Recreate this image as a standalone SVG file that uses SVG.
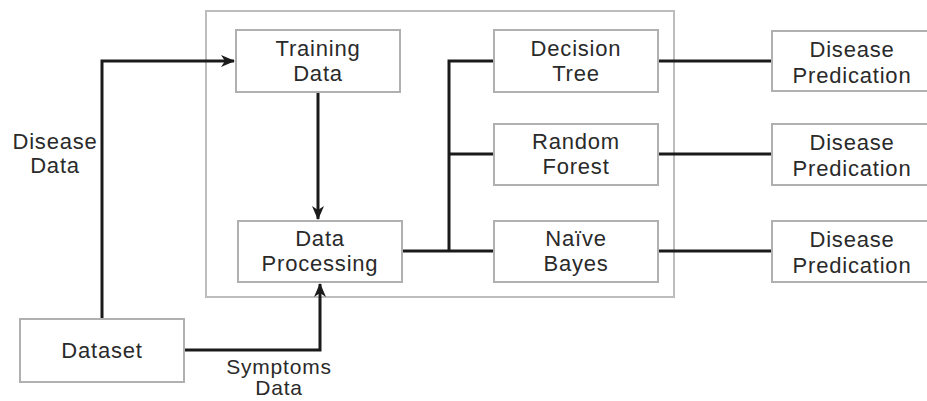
<svg xmlns="http://www.w3.org/2000/svg" width="927" height="401" viewBox="0 0 927 401">
<style>
.box{fill:#fff;stroke:#b0b0b0;stroke-width:2}
.cont{fill:none;stroke:#bdbdbd;stroke-width:2}
.t{font-family:"Liberation Sans",Arial,sans-serif;font-size:22px;letter-spacing:0.8px;fill:#2a2a2a;text-anchor:middle}
.c{fill:none;stroke:#1a1a1a;stroke-width:3}
</style>
<defs>
<marker id="ah" markerWidth="14" markerHeight="12" refX="13" refY="6" orient="auto" markerUnits="userSpaceOnUse">
<path d="M0,0 L14,6 L0,12 L4,6 Z" fill="#1a1a1a"/>
</marker>
</defs>
<rect width="927" height="401" fill="#fff"/>
<g id="container"><rect class="cont" x="206" y="11" width="468" height="286"/></g>
<g id="connectors">
<path class="c" d="M102,319 V61 H234" marker-end="url(#ah)"/>
<path class="c" d="M318,92 V219" marker-end="url(#ah)"/>
<path class="c" d="M184,350 H320 V284" marker-end="url(#ah)"/>
<path class="c" d="M402,251 H494"/>
<path class="c" d="M449,251 V61 H494"/>
<path class="c" d="M449,154 H494"/>
<path class="c" d="M658,61 H772"/>
<path class="c" d="M658,154 H772"/>
<path class="c" d="M658,251 H772"/>
</g>
<g id="training"><rect class="box" x="236" y="30" width="164" height="62"/><text class="t" x="318" y="56">Training</text><text class="t" x="318" y="81">Data</text></g>
<g id="processing"><rect class="box" x="238" y="221" width="164" height="61"/><text class="t" x="320" y="246">Data</text><text class="t" x="320" y="271">Processing</text></g>
<g id="dt"><rect class="box" x="494" y="30" width="164" height="62"/><text class="t" x="576" y="56">Decision</text><text class="t" x="576" y="81">Tree</text></g>
<g id="rf"><rect class="box" x="494" y="124" width="164" height="61"/><text class="t" x="576" y="149">Random</text><text class="t" x="576" y="174">Forest</text></g>
<g id="nb"><rect class="box" x="494" y="221" width="164" height="61"/><text class="t" x="576" y="246">Naïve</text><text class="t" x="576" y="271">Bayes</text></g>
<g id="pred1"><rect class="box" x="772" y="31" width="156" height="60"/><text class="t" x="852" y="57">Disease</text><text class="t" x="852" y="83">Predication</text></g>
<g id="pred2"><rect class="box" x="772" y="124" width="156" height="61"/><text class="t" x="852" y="150">Disease</text><text class="t" x="852" y="176">Predication</text></g>
<g id="pred3"><rect class="box" x="772" y="221" width="156" height="61"/><text class="t" x="852" y="247">Disease</text><text class="t" x="852" y="273">Predication</text></g>
<g id="dataset"><rect class="box" x="20" y="319" width="164" height="63"/><text class="t" x="102" y="358">Dataset</text></g>
<g id="labels">
<text class="t" x="55" y="149">Disease</text><text class="t" x="55" y="173">Data</text>
<text class="t" x="279" y="374" style="font-size:21px">Symptoms</text><text class="t" x="279" y="395" style="font-size:21px">Data</text>
</g>
</svg>
